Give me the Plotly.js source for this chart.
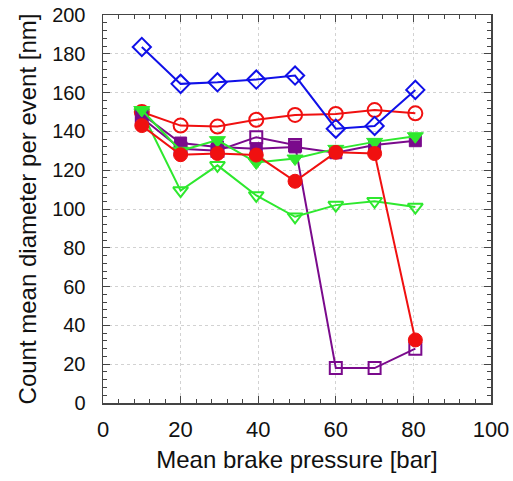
<!DOCTYPE html>
<html>
<head>
<meta charset="utf-8">
<script src="https://cdn.plot.ly/plotly-3.0.1.min.js"></script>
<style>html,body{margin:0;padding:0;background:#fff;}#chart{width:513px;height:481px;}</style>
</head>
<body>
<div id="chart"></div>
<script>
const pressure = [10, 20, 29.5, 39.5, 49.5, 60, 70, 80.5];
const blueOpenDiamond = [183.5, 164.5, 165.3, 166.7, 168.8, 141.4, 142.8, 161.4];
const redOpenCircle = [150, 143, 142.5, 146, 148.5, 149, 151, 149.3];
const purpleOpenSquare = [147, 131, 130, 137, 133, 18, 18, 28];
const purpleFilledSquare = [149, 134, 132, 131, 132, 129, 133, 135.2];
const greenOpenTriangle = [150, 109.5, 122.5, 107, 96, 102, 104, 101];
const greenFilledTriangle = [151, 130, 135.5, 124, 126, 131, 134.6, 137.5];
const redFilledCircle = [143, 128, 128.6, 127.8, 114.3, 129.2, 128.6, 32.5];

const xTicks = [0, 20, 40, 60, 80, 100];
const yTicks = [0, 20, 40, 60, 80, 100, 120, 140, 160, 180, 200];

function tr(y, color, symbol, size, filled) {
  return {
    x: pressure, y: y, type: 'scatter', mode: 'lines+markers',
    line: {color: color, width: 2},
    marker: {symbol: symbol, size: size, color: color,
             line: {color: color, width: filled ? 1 : 2}},
    showlegend: false, cliponaxis: false
  };
}

const data = [
  tr(purpleOpenSquare, '#7a0a8c', 'square-open', 12, false),
  tr(redOpenCircle, '#f01010', 'circle-open', 14, false),
  tr(greenOpenTriangle, '#2ee82e', 'triangle-down-open', 13, false),
  tr(purpleFilledSquare, '#7a0a8c', 'square', 12, true),
  tr(greenFilledTriangle, '#2ee82e', 'triangle-down', 14, true),
  tr(redFilledCircle, '#f01010', 'circle', 14, true),
  tr(blueOpenDiamond, '#1010e8', 'diamond-open', 14, false)
];

const FONT = 'Liberation Sans, Arial, sans-serif';
const axisCommon = {
  showline: true, linecolor: '#444', linewidth: 1.5, mirror: 'ticks',
  ticks: 'inside', ticklen: 7, tickcolor: '#444', tickwidth: 1,
  showgrid: true, gridcolor: '#d2d2d2', griddash: 'dot', gridwidth: 1,
  zeroline: false, automargin: false,
  minor: {ticks: 'inside', ticklen: 4, tickcolor: '#444', dtick: 4, showgrid: false}
};

const layout = {
  width: 513, height: 481,
  margin: {l: 103, r: 22, t: 15, b: 78},
  paper_bgcolor: '#fff', plot_bgcolor: '#fff',
  xaxis: Object.assign({}, axisCommon, {
    range: [0, 100], tickvals: xTicks, ticktext: xTicks.map(String),
    tickfont: {family: FONT, size: 22, color: '#111'}, ticklabelstandoff: 6,
    title: {text: 'Mean brake pressure [bar]', standoff: 10,
            font: {family: FONT, size: 24, color: '#111'}}
  }),
  yaxis: Object.assign({}, axisCommon, {
    range: [0, 200], tickvals: yTicks, ticktext: yTicks.map(String),
    tickfont: {family: FONT, size: 20, color: '#111'}, ticklabelstandoff: 12,
    title: {text: 'Count mean diameter per event [nm]', standoff: 8,
            font: {family: FONT, size: 24, color: '#111'}}
  })
};

Plotly.newPlot('chart', data, layout, {displayModeBar: false, staticPlot: true});
</script>
</body>
</html>
